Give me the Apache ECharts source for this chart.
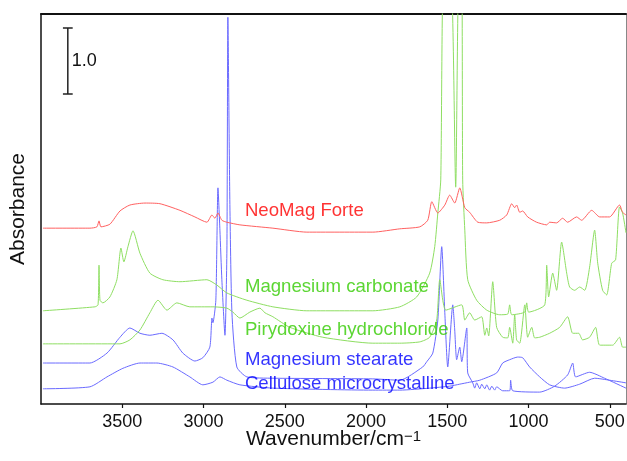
<!DOCTYPE html>
<html><head><meta charset="utf-8">
<script src="https://cdn.jsdelivr.net/npm/echarts@6/dist/echarts.min.js"></script>
<style>html,body{margin:0;padding:0;background:#fff}#c{width:627px;height:461px}</style>
</head><body><div id="c"></div>
<script>
const xTicks = [500, 1000, 1500, 2000, 2500, 3000, 3500];

const neoWn  = [3988,3699,3656,3643,3631,3576,3514,3453,3360,3268,3145,3053,2979,2948,2930,2911,2887,2856,2776,2573,2364,1958,1792,1669,1620,1595,1558,1515,1485,1454,1423,1392,1362,1312,1257,1177,1134,1103,1085,1073,1054,1036,1005,950,888,870,827,790,759,704,673,611,562,501,440,421,400];
const neoAbs = [2.66,2.66,2.68,2.77,2.68,2.72,2.92,3.01,3.04,3.03,2.93,2.83,2.75,2.86,2.81,2.89,2.78,2.75,2.71,2.66,2.60,2.60,2.65,2.68,2.78,3.06,2.89,3.01,3.16,3.04,3.27,2.97,2.90,2.75,2.74,2.78,2.86,3.03,2.97,3.01,2.90,2.92,2.83,2.75,2.71,2.75,2.74,2.81,2.75,2.83,2.78,2.93,2.83,2.83,3.01,2.90,2.86];

const carbWn  = [3988,3668,3649,3643,3637,3619,3576,3533,3508,3490,3465,3434,3391,3330,3250,3145,2979,2918,2856,2733,2573,2364,1958,1792,1688,1608,1577,1558,1540,1522,1478,1448,1429,1411,1405,1392,1374,1319,1257,1177,1128,1116,1103,1023,1011,999,900,888,876,851,827,796,765,747,716,685,654,624,593,574,544,519,488,464,440,421,400];
const carbAbs = [1.41,1.47,1.50,2.10,1.57,1.53,1.62,1.88,2.36,2.15,2.38,2.62,2.28,1.98,1.88,1.85,1.88,1.80,1.68,1.57,1.47,1.41,1.41,1.47,1.62,1.98,2.38,2.89,3.39,6.5,6.5,3.28,6.5,6.5,3.39,2.63,1.88,1.57,1.42,1.35,1.36,1.50,1.35,1.39,1.53,1.39,1.50,2.10,1.62,1.98,1.72,2.45,1.98,1.77,1.72,1.77,1.72,2.07,2.63,2.13,1.72,1.65,2.13,2.18,2.98,2.89,2.59];

const pyrWn  = [3988,3514,3453,3391,3330,3280,3225,3164,3084,2942,2856,2819,2776,2715,2653,2622,2573,2469,2266,1958,1792,1669,1608,1565,1546,1509,1411,1392,1362,1331,1288,1269,1257,1245,1220,1196,1159,1128,1116,1097,1085,1073,1054,1023,1005,980,962,931,870,808,759,728,691,667,624,587,562,482,440,421,400];
const pyrAbs = [0.91,0.91,0.97,1.12,1.38,1.57,1.42,1.53,1.47,1.47,1.45,1.39,1.30,1.39,1.45,1.38,1.32,1.16,1.01,0.92,0.92,0.94,1.01,1.27,1.88,1.42,1.50,1.27,1.38,1.27,1.32,1.04,1.15,1.03,1.85,1.16,1.01,1.00,1.16,0.92,1.35,0.97,0.92,1.50,1.01,1.16,1.00,1.01,1.07,1.16,1.32,1.07,1.07,0.97,1.01,1.16,0.89,0.89,1.01,0.86,0.86];

const stearWn  = [3988,3699,3594,3514,3453,3391,3330,3256,3188,3127,3053,3004,2961,2948,2942,2924,2911,2899,2887,2868,2856,2850,2838,2825,2795,2733,2573,1958,1792,1651,1626,1589,1558,1534,1515,1497,1466,1454,1442,1423,1411,1380,1374,1343,1331,1319,1300,1288,1269,1257,1239,1226,1208,1196,1159,1116,1110,1097,931,839,759,728,710,624,532,400];
const stearAbs = [0.62,0.62,0.77,1.01,1.15,1.07,1.04,1.07,0.97,0.77,0.65,0.70,0.86,1.30,1.23,1.57,3.27,2.63,1.88,1.04,2.33,5.85,3.09,1.38,0.56,0.41,0.39,0.38,0.36,0.56,0.64,0.77,1.27,2.38,1.38,0.56,1.50,1.12,0.67,0.86,0.64,1.15,0.47,0.32,0.24,0.32,0.23,0.30,0.23,0.29,0.21,0.27,0.21,0.26,0.20,0.20,0.36,0.20,0.18,0.27,0.44,0.62,0.41,0.48,0.39,0.24];

const cellWn  = [3988,3699,3594,3496,3391,3287,3188,3084,3004,2942,2899,2856,2776,2573,1958,1792,1608,1485,1423,1362,1300,1196,1159,1116,1067,1036,993,931,870,778,685,593,501,400];
const cellAbs = [0.23,0.26,0.41,0.54,0.62,0.62,0.56,0.41,0.29,0.33,0.41,0.36,0.29,0.24,0.21,0.21,0.24,0.27,0.30,0.33,0.36,0.47,0.62,0.67,0.71,0.70,0.56,0.41,0.29,0.24,0.30,0.39,0.36,0.32];

const seriesNames = ['NeoMag Forte','Magnesium carbonate','Pirydoxine hydrochloride','Magnesium stearate','Cellulose microcrystalline'];
const scaleBarWn  = [3865,3805,3835,3835,3865,3805];
const scaleBarAbs = [5.69,5.69,5.69,4.69,4.69,4.69];

const zip = (a,b) => a.map((v,i)=>[v,b[i]]);
const lineColors = ['#ff6060','#8ede62','#8ede62','#6a6aff','#6a6aff'];
const textColors = ['#ff0000','#33cc00','#33cc00','#0000ff','#0000ff'];
const labelAt = [[2745,2.92],[2745,1.77],[2745,1.12],[2745,0.66],[2745,0.30]];
const allData = [zip(neoWn,neoAbs),zip(carbWn,carbAbs),zip(pyrWn,pyrAbs),zip(stearWn,stearAbs),zip(cellWn,cellAbs)];
const FONT = 'Liberation Sans, Arial, Helvetica, sans-serif';

const series = allData.map((d,i)=>({
  type:'line', name:seriesNames[i], data:d, showSymbol:false, smooth:0.2, clip:true,
  lineStyle:{color:lineColors[i], width:1}, z:2+(4-i), animation:false
}));
series.push({
  type:'scatter', symbolSize:0, animation:false, silent:true, z:10,
  data: labelAt.map((p,i)=>({value:p, label:{show:true, position:'right', distance:0, formatter:seriesNames[i], color:textColors[i], fontSize:18.6, fontFamily:FONT}}))
});
series.push({
  type:'line', data:zip(scaleBarWn,scaleBarAbs), showSymbol:false, animation:false,
  lineStyle:{color:'#222', width:1.5},
  markPoint:{symbol:'rect', symbolSize:0, data:[{coord:[3835,5.19], label:{show:true, position:'right', distance:4, formatter:'1.0', color:'#111', fontSize:18, fontFamily:FONT}}]}
});

const chart = echarts.init(document.getElementById('c'), null, {renderer:'canvas'});
chart.setOption({
  animation:false,
  backgroundColor:'#fff',
  grid:{left:41, right:1, top:14, bottom:57, containLabel:false, outerBoundsMode:'none'},
  xAxis:[{
    type:'value', min:400, max:4000, inverse:true, position:'bottom',
    name:'Wavenumber/cm{s|−1}', nameLocation:'middle', nameGap:25, nameMoveOverlap:false,
    nameTextStyle:{fontSize:21, color:'#111', fontFamily:FONT, rich:{s:{fontSize:15, verticalAlign:'top', color:'#111', fontFamily:FONT, padding:[0,0,6,0]}}},
    axisLine:{show:true, onZero:false, lineStyle:{color:'#111', width:1.5}},
    axisTick:{show:true, inside:false, length:4, lineStyle:{color:'#111', width:1.2}, customValues:xTicks},
    axisLabel:{show:true, fontSize:18, color:'#111', margin:9, fontFamily:FONT, customValues:xTicks, formatter:v=>String(v)},
    splitLine:{show:false}
  },{
    type:'value', min:400, max:4000, inverse:true, position:'top',
    axisLine:{show:true, onZero:false, lineStyle:{color:'#111', width:2}}, axisTick:{show:false}, axisLabel:{show:false}, splitLine:{show:false}
  }],
  yAxis:[{
    type:'value', min:0, max:5.9, position:'left',
    name:'Absorbance', nameLocation:'middle', nameGap:12, nameRotate:90, nameMoveOverlap:false,
    nameTextStyle:{fontSize:21, color:'#111', fontFamily:FONT},
    axisLine:{show:true, onZero:false, lineStyle:{color:'#111', width:1.5}}, axisTick:{show:false}, axisLabel:{show:false}, splitLine:{show:false}
  },{
    type:'value', min:0, max:5.9, position:'right',
    axisLine:{show:true, onZero:false, lineStyle:{color:'#888', width:1}}, axisTick:{show:false}, axisLabel:{show:false}, splitLine:{show:false}
  }],
  series: series
});
</script></body></html>
